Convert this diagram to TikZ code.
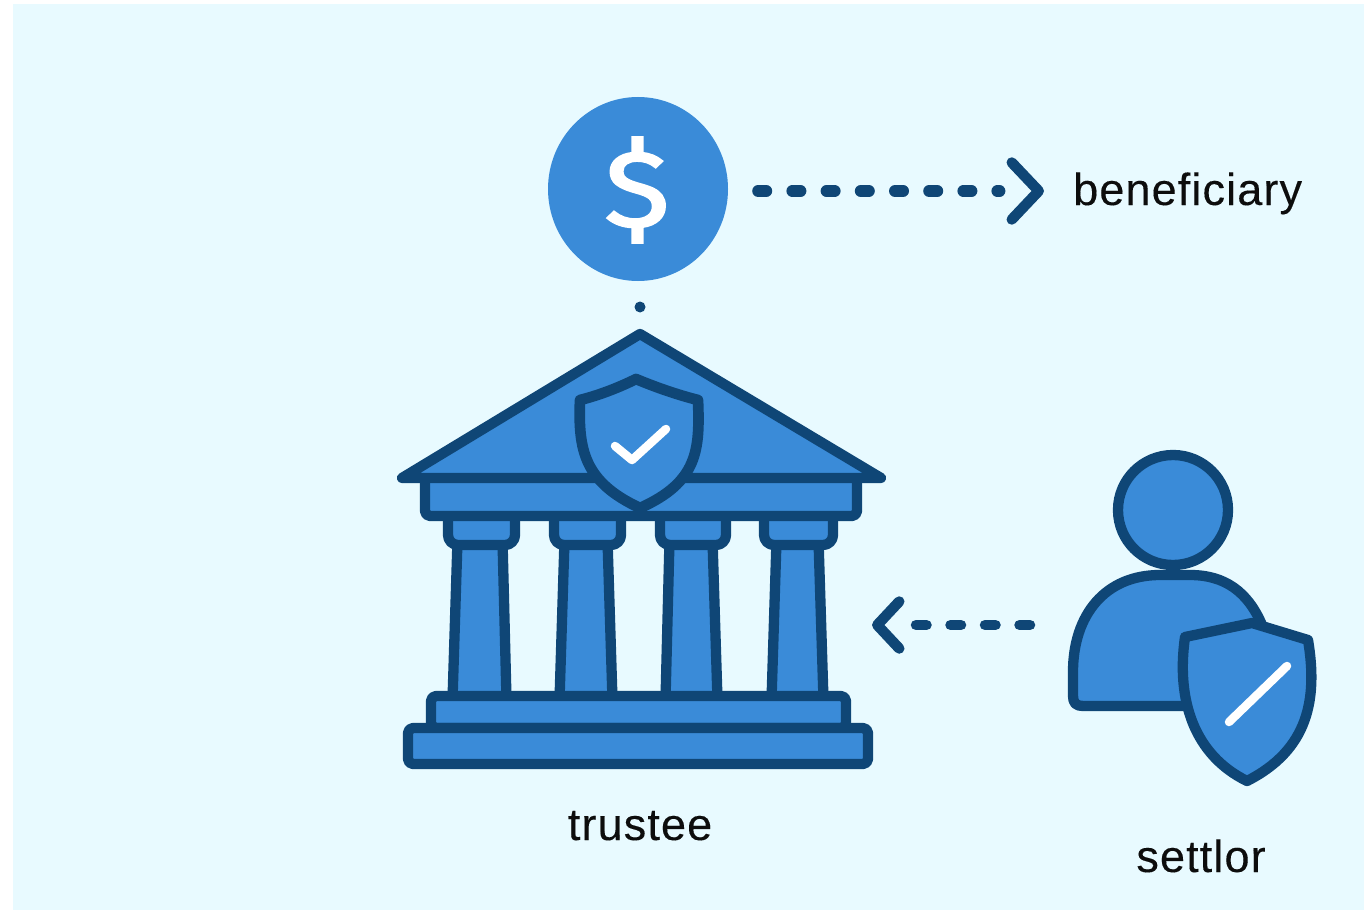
\documentclass[tikz,border=0pt]{standalone}
\usepackage{fontspec}
\setmainfont{Liberation Sans}
\newfontfamily\dollarfont{Fira Sans}[FakeBold=1.9]
\usetikzlibrary{arrows.meta,shapes.geometric}
\definecolor{panel}{HTML}{E8FAFF}
\definecolor{ink}{HTML}{0F4676}
\definecolor{iconblue}{HTML}{3A8BD8}
\definecolor{labelc}{HTML}{0D0D0D}
\tikzset{
  part/.style={draw=ink,fill=iconblue,line width=10.3pt,line join=round},
  roundpart/.style={part,rounded corners=5pt},
  mark line/.style={draw=white,line width=8.5pt,line cap=round,line join=round},
  label text/.style={text=labelc,inner sep=0pt,text height=36pt,text depth=8pt,
    font=\fontsize{45}{50}\selectfont\addfontfeature{LetterSpace=2.5,FakeBold=0.2}},
  flow/.style={draw=ink,line width=12pt,line cap=round},
}
\begin{document}
\begin{tikzpicture}[x=1pt,y=-1pt]
\useasboundingbox (0,0) rectangle (1364,912);
\fill[white] (0,0) rectangle (1364,912);
\fill[panel] (13,4) rectangle (1364,910);

% coin
\node[ellipse,fill=iconblue,inner sep=0pt,minimum width=180pt,minimum height=184pt] (coin) at (638,189) {};
\node[text=white,inner sep=0pt,font=\dollarfont\fontsize{108}{108}\selectfont] (dollar) at (637,190) {\scalebox{1.14}[1]{\$}};
\fill[ink] (640,307) circle (5.5);

% labels
\node[label text,anchor=west] (beneficiary) at (1073,191) {beneficiary};
\node[label text] (trustee) at (640,826) {trustee};
\node[label text] (settlor) at (1201,858) {settlor};

% temple columns
\foreach \tl/\tr/\bl/\br in {457.5/502.5/452.5/506.5, 564.5/607.5/559.5/612.5, 669.5/712.5/665.5/717.5, 776.5/818.5/771.5/823.5}{
  \draw[part] (\tl,540) -- (\bl,700) -- (\br,700) -- (\tr,540) -- cycle;
}
% capitals
\foreach \l/\r in {448/515, 554/621, 660/726, 764/833}{
  \draw[part,rounded corners=10pt] (\l,505) -- (\l,545) -- (\r,545) -- (\r,505) -- cycle;
}
% entablature and roof
\draw[roundpart] (425,470) rectangle (857,516);
\draw[part] (640,334) -- (881,478) -- (402,478) -- cycle;
% base
\draw[roundpart] (431,696) rectangle (846,728);
\draw[roundpart] (408,728) rectangle (868,764);
% temple shield
\draw[part,line width=10.7pt] (580,400) .. controls (600,395) and (620,387) .. (636,379)
  .. controls (655,387) and (678,395) .. (698,400)
  .. controls (700,450) and (698,482) .. (640,508)
  .. controls (584,482) and (578,450) .. (580,400) -- cycle;
\draw[mark line] (615,446) -- (632,460) -- (666,429);

% person
\draw[part] (1200,706) -- (1083,706)
  .. controls (1076,706) and (1073,703) .. (1073,696)
  -- (1073,672) .. controls (1073,615) and (1105,575) .. (1160,575)
  -- (1190,575) .. controls (1225,575) and (1248,592) .. (1262,625) -- cycle;
\draw[part] (1173,510) circle (55);
\draw[part] (1185,637) -- (1252,623) -- (1308,640)
  .. controls (1318,700) and (1308,750) .. (1247,781)
  .. controls (1194,755) and (1176,700) .. (1185,637) -- cycle;
\draw[mark line] (1229,722) -- (1287,666);

% connectors
\coordinate (flowstart) at (coin.east |- beneficiary.west);
\draw[flow,shorten <=30pt,shorten >=29pt,
      dash pattern=on 8pt off 26.2pt on 8pt off 26.2pt on 8pt off 26.2pt on 8pt off 26.2pt on 8pt off 26.2pt on 8pt off 26.2pt on 8pt off 26pt on 2pt off 100pt,
      -{Straight Barb[length=27pt,width=57pt,line width=10.5pt,round,sep=0pt]}] (flowstart) -- (beneficiary.west);
\coordinate (personside) at (1030,625);
\coordinate (templeside) at (872,625);
\draw[flow,line width=10.5pt,
      dash pattern=on 10.5pt off 24pt on 10.5pt off 24pt on 10.5pt off 24pt on 10.5pt off 100pt,
      -{Straight Barb[length=22pt,width=47pt,line width=10.5pt,round,sep=0pt]}] (personside) -- (templeside);
\end{tikzpicture}
\end{document}
